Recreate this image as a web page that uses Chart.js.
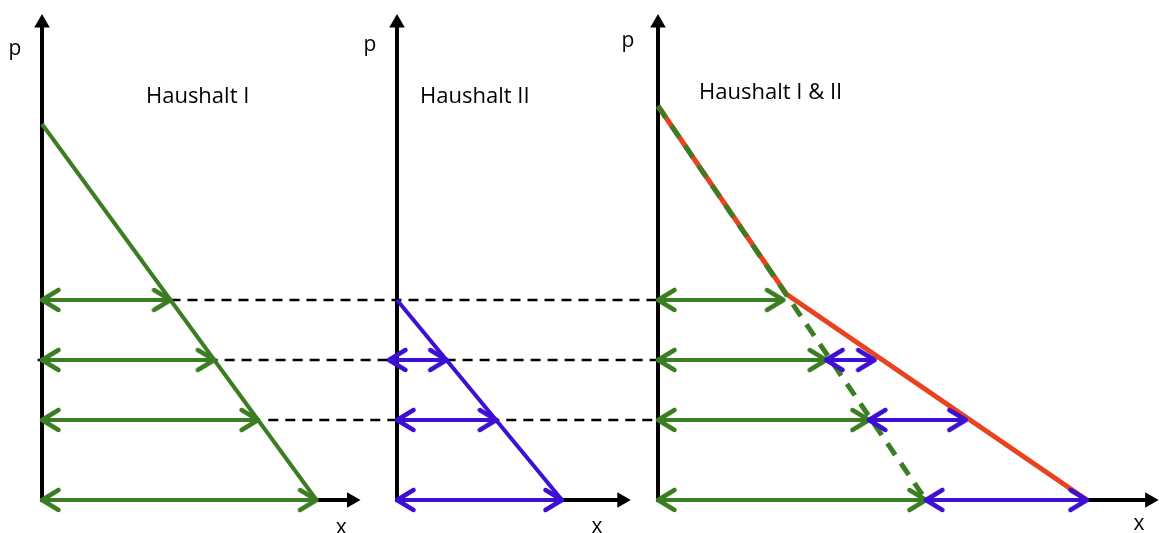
<!DOCTYPE html>
<html>
<head>
<meta charset="utf-8">
<script src="https://cdn.jsdelivr.net/npm/chart.js@4"></script>
<style>
  html, body { margin: 0; padding: 0; background: #fff; }
  canvas { display: block; }
</style>
</head>
<body>
<canvas id="chart" width="1159" height="533"></canvas>
<script>
// price levels of the horizontal arrows, top to bottom
const priceLevels = [10, 7, 4, 0];

// Haushalt I
const hh1CurveQ = [0, 18.8];
const hh1CurveP = [18.8, 0];
const hh1Qty = [8.8, 11.8, 14.8, 18.8];

// Haushalt II
const hh2CurveQ = [0, 11.3];
const hh2CurveP = [10, 0];
const hh2Start = [0, -0.55, 0, 0];
const hh2Qty = [0, 3.4, 6.8, 11.3];

// Haushalt I & II (aggregated)
const marketCurveQ = [0, 9.0, 30.1];
const marketCurveP = [19.7, 10.3, 0];
const marketHh1CurveQ = [0, 18.8];
const marketHh1CurveP = [19.7, 0];

// where the dashed guides start in panel I (one per price level above 0)
const guideStartQ = [8.8, -0.3, 15.5];

const panelTitles = ['Haushalt I', 'Haushalt II', 'Haushalt I & II'];
const axisLabelP = 'p';
const axisLabelX = 'x';

// ---- layout ----
const W = 1159, H = 533;
const PX_PER_P = 20, BASE_Y = 500;
const GREEN = '#3a7d22';
const BLUE = '#3c0fd2';
const RED = '#e8421e';

const panels = [
    { id: 'x1', origin: 42,  unit: 14.6,  axisTop: 23.85, axisEnd: 21.2,
      title: [7.12, 19.85], pLabel: [-27, 22.25], xLabel: [20.5, -1.7] },
    { id: 'x2', origin: 397, unit: 14.6,  axisTop: 23.85, axisEnd: 15.4,
      title: [1.58, 19.85], pLabel: [-27, 22.45], xLabel: [13.7, -1.65] },
    { id: 'x3', origin: 658, unit: 14.25, axisTop: 23.85, axisEnd: 34.5,
      title: [2.88, 20.05], pLabel: [-30, 22.65], xLabel: [33.75, -1.5] }
];

function chevron(color) {
    const s = 44;
    const c = document.createElement('canvas');
    c.width = s; c.height = s;
    const g = c.getContext('2d');
    g.strokeStyle = color;
    g.lineWidth = 4.5;
    g.lineCap = 'round';
    g.lineJoin = 'round';
    g.beginPath();
    g.moveTo(s / 2 - 16.5, s / 2 - 10);
    g.lineTo(s / 2, s / 2);
    g.lineTo(s / 2 - 16.5, s / 2 + 10);
    g.stroke();
    return c;
}
const headGreen = chevron(GREEN);
const headBlue = chevron(BLUE);

function seg(xAxisID, xs, ys, style) {
    return Object.assign({
        xAxisID: xAxisID,
        yAxisID: 'y',
        data: xs.map((x, i) => ({ x: x, y: ys[i] })),
        showLine: true,
        borderColor: '#000',
        borderWidth: 4,
        pointRadius: 0,
        fill: false,
        tension: 0
    }, style);
}

function arrow(xAxisID, q0, q1, p, color, head) {
    return seg(xAxisID, [q0, q1], [p, p], {
        borderColor: color,
        borderWidth: 4,
        pointRadius: 8,
        pointStyle: head,
        pointRotation: [180, 0]
    });
}

// built back to front, reversed at the end (Chart.js draws index 0 on top)
const datasets = [];

// dashed guides from panel I across to the axis of panel III
const guideEnd = (panels[2].origin - panels[0].origin) / panels[0].unit;
guideStartQ.forEach((q, i) => {
    datasets.push(seg('x1', [q, guideEnd], [priceLevels[i], priceLevels[i]], {
        borderWidth: 2.5,
        borderDash: [10, 7]
    }));
});

// axes with arrow heads
panels.forEach(pn => {
    datasets.push(seg(pn.id, [0, 0], [-0.1, pn.axisTop], {
        pointRadius: [0, 9], pointStyle: 'triangle', pointRotation: [0, 0],
        pointBackgroundColor: '#000', pointBorderWidth: 0
    }));
    datasets.push(seg(pn.id, [-0.1, pn.axisEnd], [0, 0], {
        pointRadius: [0, 9], pointStyle: 'triangle', pointRotation: [0, 90],
        pointBackgroundColor: '#000', pointBorderWidth: 0
    }));
});

// demand curves
datasets.push(seg('x1', hh1CurveQ, hh1CurveP, { borderColor: GREEN, borderWidth: 4 }));
datasets.push(seg('x2', hh2CurveQ, hh2CurveP, { borderColor: BLUE, borderWidth: 4 }));
datasets.push(seg('x3', marketCurveQ, marketCurveP, { borderColor: RED, borderWidth: 5 }));
datasets.push(seg('x3', marketHh1CurveQ, marketHh1CurveP, {
    borderColor: GREEN, borderWidth: 5, borderDash: [14, 10]
}));

// quantity arrows
priceLevels.forEach((p, i) => {
    datasets.push(arrow('x1', 0, hh1Qty[i], p, GREEN, headGreen));
    if (hh2Qty[i] > 0) {
        datasets.push(arrow('x2', hh2Start[i], hh2Qty[i], p, BLUE, headBlue));
    }
    datasets.push(arrow('x3', 0, hh1Qty[i], p, GREEN, headGreen));
});
priceLevels.forEach((p, i) => {
    if (hh2Qty[i] > 0) {
        datasets.push(arrow('x3', hh1Qty[i], hh1Qty[i] + hh2Qty[i], p, BLUE, headBlue));
    }
});

datasets.reverse();

const scales = {
    y: { type: 'linear', display: false, min: (BASE_Y - H) / PX_PER_P, max: BASE_Y / PX_PER_P }
};
panels.forEach(pn => {
    scales[pn.id] = {
        type: 'linear', axis: 'x', position: 'bottom', display: false,
        min: -pn.origin / pn.unit,
        max: (W - pn.origin) / pn.unit
    };
});

const labelPlugin = {
    id: 'panelLabels',
    afterDatasetsDraw(chart) {
        const ctx = chart.ctx;
        const ys = chart.scales.y;
        ctx.save();
        ctx.fillStyle = '#000';
        ctx.textBaseline = 'alphabetic';
        panels.forEach((pn, i) => {
            const xs = chart.scales[pn.id];
            ctx.font = '22px "Open Sans"';
            ctx.textAlign = 'left';
            ctx.fillText(panelTitles[i], xs.getPixelForValue(pn.title[0]), ys.getPixelForValue(pn.title[1]));
            ctx.font = '21px "Open Sans"';
            ctx.textAlign = 'center';
            ctx.fillText(axisLabelP, xs.getPixelForValue(0) + pn.pLabel[0], ys.getPixelForValue(pn.pLabel[1]));
            ctx.fillText(axisLabelX, xs.getPixelForValue(pn.xLabel[0]), ys.getPixelForValue(pn.xLabel[1]));
        });
        ctx.restore();
    }
};

new Chart(document.getElementById('chart'), {
    type: 'scatter',
    data: { datasets: datasets },
    options: {
        responsive: false,
        animation: false,
        layout: { padding: 0, autoPadding: false },
        scales: scales,
        plugins: {
            legend: { display: false },
            tooltip: { enabled: false }
        },
        events: []
    },
    plugins: [labelPlugin]
});
</script>
</body>
</html>
